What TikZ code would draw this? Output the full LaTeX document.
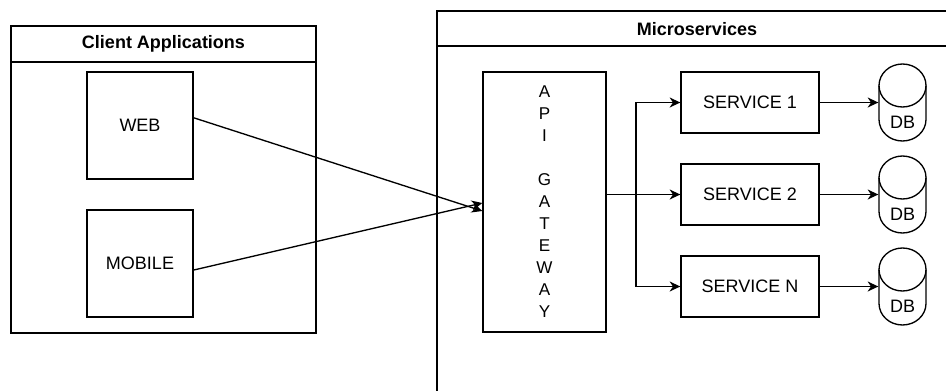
\documentclass[tikz,border=0pt]{standalone}
\usepackage{fontspec}
\setmainfont{Liberation Sans}
\usetikzlibrary{arrows.meta}

\tikzset{every picture/.style={line width=1pt}}
\tikzset{
  title/.style={inner sep=0.75pt, font=\fontsize{13.5}{16}\selectfont\bfseries},
  box/.style={draw, inner sep=0.75pt, font=\fontsize{13.5}{16}\selectfont},
  dbbox/.style={inner sep=0pt, minimum width=35.25pt, minimum height=57.75pt, text height=38.25pt, text depth=0pt, font=\fontsize{13.5}{16}\selectfont},
  linkarrow/.style={-{Stealth[length=8pt,width=7.5pt,inset=2.5pt]}, shorten >=0pt},
}

\begin{document}
\begin{tikzpicture}[x=0.75pt,y=0.75pt,yscale=-1,xscale=1]
%set diagram left start at 0, and has height of 390
\clip (0,0) rectangle (946,390);

%Shape: Rectangle [id:clientapps]
\draw (11,26) rectangle (316,333);
\draw (11,62) -- (316,62);
%Shape: Rectangle [id:microservices]
\draw (437,11) rectangle (960,400);
\draw (437,46) -- (960,46);

% Text Node
\node [title] (clienttitle) at (163.5,44) {Client Applications};
% Text Node
\node [title] (mstitle) at (697,29) {Microservices};

%Shape: Rectangle [id:web]
\node [box, minimum width=79.5pt, minimum height=80.25pt] (web) at (140,125.5) {WEB};
%Shape: Rectangle [id:mobile]
\node [box, minimum width=79.5pt, minimum height=80.25pt] (mobile) at (140,263.5) {MOBILE};
%Shape: Rectangle [id:gateway]
\node [box, minimum width=92.25pt, minimum height=195pt, align=center, font=\fontsize{12.8}{16.5}\selectfont] (gw) at (544.5,202) {A\\P\\I\\\mbox{}\\G\\A\\T\\E\\W\\A\\Y};

%Shape: Services and databases
\foreach \i/\lbl/\y in {1/1/102.5, 2/2/194.5, n/N/286.5} {
  \node [box, minimum width=103.5pt, minimum height=45.75pt] (s\i) at (750,\y) {SERVICE \lbl};
  \node [dbbox] (db\i) at (902.5,\y) {DB};
  \draw (db\i.center) ++(-23.5,-17) -- ++(0,34) arc [start angle=180, end angle=0, x radius=23.5, y radius=21.5] -- ++(0,-34);
  \draw (db\i.center) ++(0,-17) ellipse [x radius=23.5, y radius=21.5];
  \draw [linkarrow] (s\i.east) -- (db\i.west);
}

% clients to gateway
\draw [linkarrow] ([yshift=-5.8pt]web.east) -- ([yshift=6.75pt]gw.west);
\draw [linkarrow] ([yshift=4.9pt]mobile.east) -- ([yshift=0.75pt]gw.west);

% gateway to services
\coordinate (split) at (636,194.5);
\draw [linkarrow] (gw.east |- s2.west) -- (s2.west);
\draw [linkarrow] (split) |- (s1.west);
\draw [linkarrow] (split) |- (sn.west);
\end{tikzpicture}
\end{document}
